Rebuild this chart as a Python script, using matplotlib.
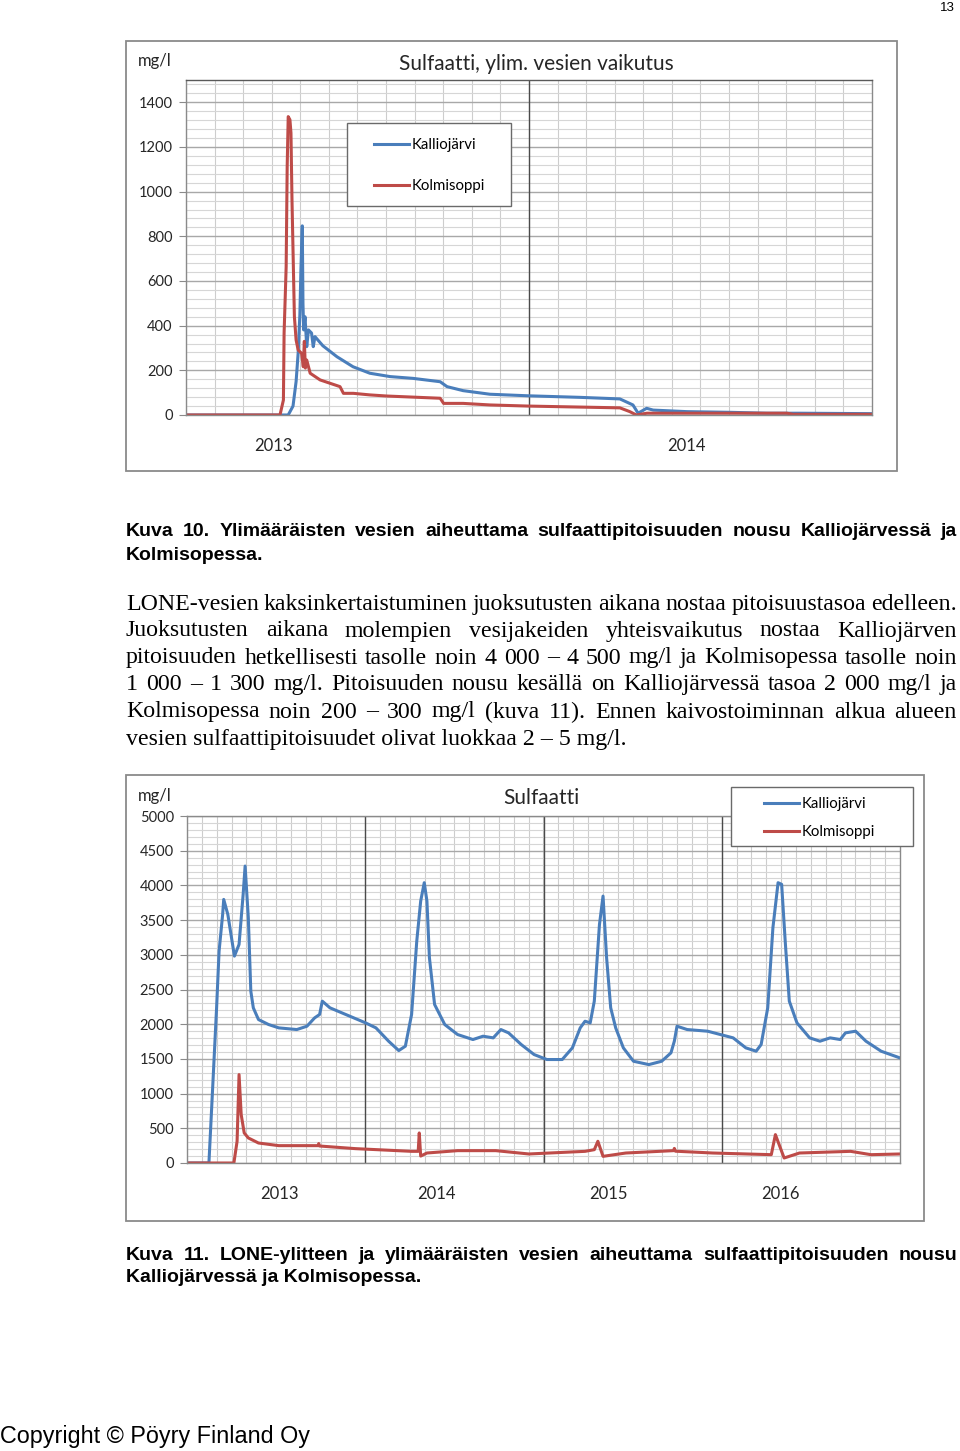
import matplotlib
matplotlib.use('Agg')
import matplotlib.pyplot as plt
from matplotlib.patches import Rectangle
from matplotlib.ticker import MultipleLocator
import numpy as np

W, H = 960, 1451

# ---- Kuva 10: Sulfaatti, ylim. vesien vaikutus (x in decimal years)
k10_kallio_x = [2013.0, 2013.298, 2013.312, 2013.321, 2013.327, 2013.332, 2013.335, 2013.339,
                2013.341, 2013.343, 2013.347, 2013.352, 2013.357, 2013.366, 2013.371, 2013.376,
                2013.399, 2013.44, 2013.487, 2013.536, 2013.595, 2013.662, 2013.741, 2013.761,
                2013.808, 2013.886, 2013.997, 2014.149, 2014.265, 2014.303, 2014.318, 2014.343,
                2014.362, 2014.461, 2014.586, 2014.694, 2014.79, 2015.0]
k10_kallio_y = [0, 0, 40, 150, 278, 450, 650, 847,
                500, 381, 440, 306, 381, 367, 306, 351,
                310, 261, 216, 187, 172, 164, 149, 127,
                109, 93, 86, 79, 72, 45, 8, 30,
                22, 15, 12, 8, 8, 6]
k10_kolmi_x = [2013.0, 2013.274, 2013.284, 2013.286, 2013.289, 2013.292, 2013.295, 2013.298,
               2013.303, 2013.306, 2013.309, 2013.313, 2013.316, 2013.321, 2013.327, 2013.337,
               2013.342, 2013.345, 2013.348, 2013.352, 2013.362, 2013.391, 2013.420, 2013.449,
               2013.459, 2013.488, 2013.536, 2013.585, 2013.741, 2013.751, 2013.808, 2013.886,
               2013.997, 2014.265, 2014.294, 2014.313, 2014.344, 2014.752, 2014.770, 2015.0]
k10_kolmi_y = [0, 0, 67, 367, 515, 664, 1112, 1336,
               1322, 1263, 963, 664, 440, 336, 291, 276,
               216, 330, 210, 246, 187, 157, 142, 127,
               97, 97, 90, 85, 75, 52, 52, 45,
               40, 32, 15, 0, 8, 8, 3, 3]

# ---- Kuva 11: Sulfaatti
k11_kallio_x = [2013.0, 2013.123, 2013.143, 2013.166, 2013.180, 2013.200, 2013.206, 2013.229,
                2013.266, 2013.292, 2013.315, 2013.326, 2013.344, 2013.358, 2013.372, 2013.401,
                2013.458, 2013.515, 2013.616, 2013.673, 2013.716, 2013.744, 2013.759, 2013.802,
                2014.002, 2014.06, 2014.131, 2014.188, 2014.225, 2014.26, 2014.289, 2014.311,
                2014.331, 2014.346, 2014.36, 2014.389, 2014.446, 2014.518, 2014.604, 2014.661,
                2014.718, 2014.761, 2014.804, 2014.875, 2014.947, 2015.019, 2015.105, 2015.162,
                2015.206, 2015.233, 2015.262, 2015.285, 2015.314, 2015.334, 2015.354, 2015.377,
                2015.405, 2015.448, 2015.505, 2015.591, 2015.663, 2015.715, 2015.734, 2015.749,
                2015.806, 2015.921, 2016.064, 2016.135, 2016.193, 2016.221, 2016.258, 2016.287,
                2016.316, 2016.336, 2016.356, 2016.379, 2016.422, 2016.493, 2016.551, 2016.608,
                2016.665, 2016.694, 2016.751, 2016.809, 2016.894, 2017.0]
k11_kallio_y = [0, 0, 1034, 2236, 3053, 3582, 3798, 3582,
                2981, 3149, 3870, 4279, 3534, 2476, 2236, 2067,
                1995, 1947, 1923, 1971, 2091, 2140, 2332, 2236,
                2019, 1947, 1755, 1620, 1683, 2140, 3197, 3774,
                4039, 3774, 2957, 2284, 1995, 1851, 1779, 1827,
                1803, 1923, 1875, 1707, 1563, 1491, 1491, 1659,
                1947, 2043, 2019, 2332, 3438, 3846, 2957, 2236,
                1947, 1659, 1466, 1418, 1466, 1587, 1755, 1971,
                1923, 1899, 1803, 1659, 1611, 1707, 2236, 3390,
                4039, 4015, 3197, 2332, 2019, 1803, 1755, 1803,
                1779, 1875, 1899, 1755, 1611, 1514]
k11_kolmi_x = [2013.0, 2013.263, 2013.281, 2013.292, 2013.304, 2013.321, 2013.344, 2013.401,
               2013.515, 2013.735, 2013.739, 2013.743, 2013.945, 2014.26, 2014.297, 2014.303,
               2014.311, 2014.346, 2014.518, 2014.732, 2014.918, 2015.233, 2015.285, 2015.305,
               2015.334, 2015.462, 2015.73, 2015.734, 2015.74, 2015.949, 2016.278, 2016.301,
               2016.35, 2016.436, 2016.723, 2016.837, 2017.0]
k11_kolmi_y = [0, 0, 313, 1274, 697, 433, 361, 288,
               250, 250, 280, 245, 207, 168, 168, 433,
               100, 144, 178, 178, 130, 168, 192, 313,
               96, 144, 178, 210, 170, 144, 120, 409,
               72, 144, 168, 120, 130]

k10_title = 'Sulfaatti, ylim. vesien vaikutus'
k11_title = 'Sulfaatti'
k10_year_pos = [2013.254, 2014.458]
k10_year_lab = ['2013', '2014']
k11_year_pos = [2013.516, 2014.397, 2015.362, 2016.327]
k11_year_lab = ['2013', '2014', '2015', '2016']

caption10 = ['Kuva 10. Ylimääräisten vesien aiheuttama sulfaattipitoisuuden nousu Kalliojärvessä ja',
             'Kolmisopessa.']
paragraph = ['LONE-vesien kaksinkertaistuminen juoksutusten aikana nostaa pitoisuustasoa edelleen.',
             'Juoksutusten aikana molempien vesijakeiden yhteisvaikutus nostaa Kalliojärven',
             'pitoisuuden hetkellisesti tasolle noin 4 000 – 4 500 mg/l ja Kolmisopessa tasolle noin',
             '1 000 – 1 300 mg/l. Pitoisuuden nousu kesällä on Kalliojärvessä tasoa 2 000 mg/l ja',
             'Kolmisopessa noin 200 – 300 mg/l (kuva 11). Ennen kaivostoiminnan alkua alueen',
             'vesien sulfaattipitoisuudet olivat luokkaa 2 – 5 mg/l.']
caption11 = ['Kuva 11. LONE-ylitteen ja ylimääräisten vesien aiheuttama sulfaattipitoisuuden nousu',
             'Kalliojärvessä ja Kolmisopessa.']

BLUE = '#4A7EBB'
RED = '#BE4B48'
CHART_FONT = ['Lato', 'DejaVu Sans']

fig = plt.figure(figsize=(W / 100, H / 100), dpi=100)
fig.patch.set_facecolor('white')


def px_box(x0, y0, x1, y1):
    return [x0 / W, 1 - y1 / H, (x1 - x0) / W, (y1 - y0) / H]


def frame(x0, y0, x1, y1, ec='#8a8a8a', lw=1.3, z=1):
    r = Rectangle((x0 / W, 1 - y1 / H), (x1 - x0) / W, (y1 - y0) / H,
                  transform=fig.transFigure, fill=(z > 1), fc='white',
                  ec=ec, lw=lw, zorder=z)
    fig.patches.append(r)


def chart(box, xr, ymax, ymajor, series, year_pos, year_lab):
    ax = fig.add_axes(px_box(*box))
    for x, y, c, lab in series:
        ax.plot(x, y, color=c, lw=2.2, label=lab, solid_joinstyle='round')
    ax.set_xlim(*xr)
    ax.set_ylim(0, ymax)
    ax.yaxis.set_major_locator(MultipleLocator(ymajor))
    ax.yaxis.set_minor_locator(MultipleLocator(ymajor / 5))
    ax.set_xticks(np.arange(xr[0], xr[1], 1 / 12), minor=True)
    ax.set_xticks(year_pos, year_lab)
    ax.grid(which='major', axis='y', color='#a8a8a8', lw=1.0)
    ax.grid(which='minor', axis='y', color='#d6d6d6', lw=0.8)
    ax.grid(which='minor', axis='x', color='#cdcdcd', lw=0.8)
    for yr in range(int(xr[0]) + 1, int(xr[1])):
        ax.axvline(yr, color='#4a4a4a', lw=1.0, zorder=1.5)
    ax.set_axisbelow(True)
    ax.tick_params(axis='x', which='both', length=0, pad=16.5, labelsize=12,
                   labelcolor='#262626')
    ax.tick_params(axis='y', which='major', length=5, color='#8a8a8a', labelsize=10.5,
                   labelcolor='#262626', pad=4.5)
    ax.tick_params(axis='y', which='minor', length=0)
    for lab in ax.get_xticklabels() + ax.get_yticklabels():
        lab.set_family(CHART_FONT)
    for s in ax.spines.values():
        s.set_color('#8a8a8a')
        s.set_linewidth(1.0)
    return ax


def legend_at(ax, box, first, spacing):
    # box drawn on the figure, entries placed from the first handle position
    frame(*box, ec='#6a6a6a', lw=1.0, z=3)
    leg = ax.legend(loc='upper left', bbox_to_anchor=(first[0] / W, 1 - first[1] / H),
                    bbox_transform=fig.transFigure, frameon=False,
                    handlelength=2.3, handletextpad=0.2, labelspacing=spacing,
                    borderpad=0, borderaxespad=0,
                    prop={'family': CHART_FONT, 'size': 10.8})
    leg.set_zorder(4)
    fig.legends.append(leg)
    ax.get_legend().remove()
    return leg


# chart 1
frame(126, 41, 897, 471)
ax1 = chart((186, 80, 872, 415), (2013, 2015), 1500, 200,
            [(k10_kallio_x, k10_kallio_y, BLUE, 'Kalliojärvi'),
             (k10_kolmi_x, k10_kolmi_y, RED, 'Kolmisoppi')],
            k10_year_pos, k10_year_lab)
ax1.spines['top'].set_color('#5a5a5a')
fig.text(536 / W, 1 - 64 / H, k10_title, ha='center', va='center', fontsize=15,
         family=CHART_FONT, color='#262626')
fig.text(155 / W, 1 - 61 / H, 'mg/l', ha='center', va='center', fontsize=12,
         family=CHART_FONT, color='#262626')

# chart 2
frame(126, 775, 924, 1221)
ax2 = chart((187, 816, 900, 1163), (2013, 2017), 5000, 500,
            [(k11_kallio_x, k11_kallio_y, BLUE, 'Kalliojärvi'),
             (k11_kolmi_x, k11_kolmi_y, RED, 'Kolmisoppi')],
            k11_year_pos, k11_year_lab)
fig.text(541 / W, 1 - 798 / H, k11_title, ha='center', va='center', fontsize=15,
         family=CHART_FONT, color='#262626')
fig.text(155 / W, 1 - 796 / H, 'mg/l', ha='center', va='center', fontsize=12,
         family=CHART_FONT, color='#262626')

ax1.legend()
legend_at(ax1, (347, 123, 511, 206), (374, 138), 1.82)
ax2.legend()
legend_at(ax2, (731, 787, 913, 846), (764, 797), 0.93)

# ---- page text
renderer = fig.canvas.get_renderer()


def justified(lines, x0, x1, y0, dy, **kw):
    for i, line in enumerate(lines):
        y = 1 - (y0 + i * dy) / H
        if i == len(lines) - 1:
            fig.text(x0 / W, y, line, ha='left', va='center', **kw)
            continue
        words = line.split(' ')
        arts = [fig.text(0, y, w, ha='left', va='center', **kw) for w in words]
        widths = [a.get_window_extent(renderer).width for a in arts]
        gap = (x1 - x0 - sum(widths)) / (len(words) - 1)
        x = x0
        for a, w in zip(arts, widths):
            a.set_x(x / W)
            x += w + gap


cap_kw = dict(fontsize=14, fontweight='bold', family=['Liberation Sans', 'DejaVu Sans'],
              color='black')
body_kw = dict(fontsize=17.2, family=['Liberation Serif', 'DejaVu Serif'], color='black')
justified(caption10, 126, 957, 532, 23, **cap_kw)
justified(paragraph, 126, 957, 604, 27, **body_kw)
justified(caption11, 126, 957, 1256, 22, **cap_kw)

fig.text(947 / W, 1 - 8 / H, '13', ha='center', va='center', fontsize=9.5,
         family='Liberation Sans')
fig.text(0, 1 - 1436 / H, 'Copyright © Pöyry Finland Oy', ha='left', va='center',
         fontsize=16.8, family='Liberation Sans')

fig.savefig('out.png', dpi=100, facecolor='white')
